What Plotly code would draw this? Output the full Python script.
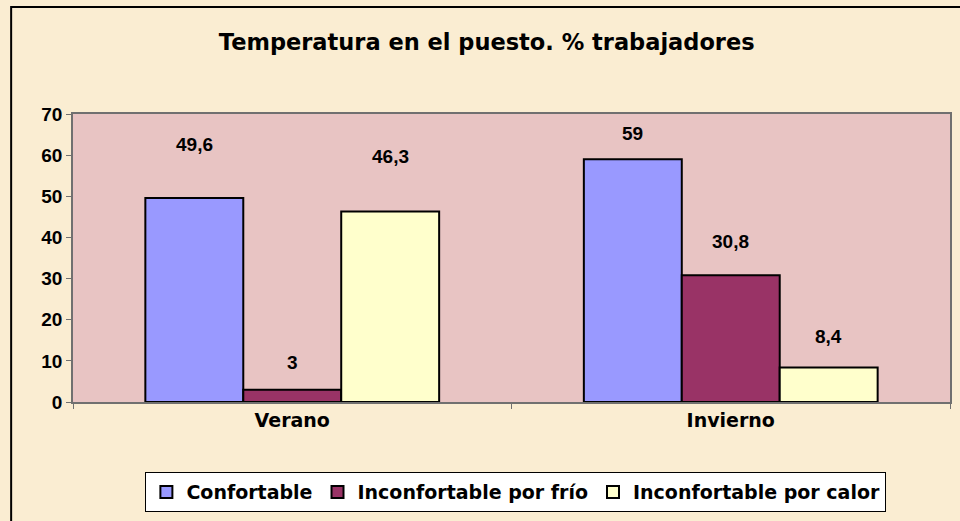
import plotly.graph_objects as go

categories = ["Verano", "Invierno"]
series_names = ["Confortable", "Inconfortable por frío", "Inconfortable por calor"]
confortable = [49.6, 59]
frio = [3, 30.8]
calor = [46.3, 8.4]
label_texts = [["49,6", "59"], ["3", "30,8"], ["46,3", "8,4"]]
y_ticks = [0, 10, 20, 30, 40, 50, 60, 70]

colors = ["#9999FF", "#993366", "#FFFFCC"]
label_shift = [[53, 26], [27, 34], [55, 31]]
bar_xshift = [-98, 0, 98]

WORD_FONT = "DejaVu Sans, sans-serif"
NUM_FONT = "Liberation Sans, Arial, sans-serif"

fig = go.Figure()
values = [confortable, frio, calor]
for name, vals, col in zip(series_names, values, colors):
    fig.add_trace(go.Bar(
        x=categories, y=vals, name=name,
        marker=dict(color=col, line=dict(color="black", width=2)),
    ))

ann = []
for i, vals in enumerate(values):
    for j, v in enumerate(vals):
        ann.append(dict(x=categories[j], y=v, xref="x", yref="y",
                        text=label_texts[i][j], showarrow=False,
                        xshift=bar_xshift[i], yshift=label_shift[i][j],
                        font=dict(family=NUM_FONT, size=19, color="black", weight="bold")))

fig.update_layout(
    width=960, height=521,
    margin=dict(l=73, r=8, t=114, b=119),
    paper_bgcolor="#FAEDD2",
    plot_bgcolor="#E8C4C3",
    bargap=0.33, bargroupgap=0,
    title=dict(text="Temperatura en el puesto. % trabajadores",
               x=0.507, xref="container", xanchor="center", y=0.92, yanchor="middle",
               font=dict(family=WORD_FONT, size=22.5, color="black", weight="bold")),
    showlegend=True,
    legend=dict(orientation="h", x=0.505, xanchor="center", y=-0.313, yanchor="middle",
                bgcolor="white", bordercolor="black", borderwidth=1,
                font=dict(family=WORD_FONT, size=19, color="black", weight="bold"),
                itemwidth=30, traceorder="normal"),
    annotations=ann,
    shapes=[dict(type="rect", xref="paper", yref="paper",
                 x0=(11 - 73) / 879, x1=1.2, y0=-0.6, y1=1 + (114 - 7) / 288,
                 line=dict(color="black", width=2), fillcolor="rgba(0,0,0,0)",
                 layer="below")],
)
fig.update_xaxes(showline=True, linecolor="#707070", linewidth=1.5, mirror=True,
                 ticks="outside", tickson="boundaries", ticklen=5, tickcolor="#707070",
                 tickfont=dict(family=WORD_FONT, size=19, color="black", weight="bold"),
                 showgrid=False)
fig.update_yaxes(range=[0, 70], tickvals=y_ticks, showline=True, linecolor="#707070",
                 linewidth=1.5, mirror=True, ticks="outside", ticklen=5, tickcolor="#707070",
                 tickfont=dict(family=NUM_FONT, size=19, color="black", weight="bold"),
                 showgrid=False, zeroline=False)

fig.write_html("out.html", config={"displayModeBar": False},
               post_script="document.body.style.margin='0';")
